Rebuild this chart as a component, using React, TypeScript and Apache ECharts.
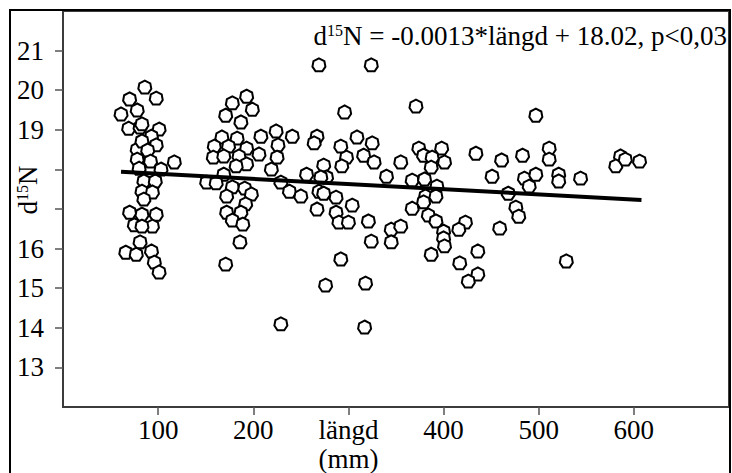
import React, { useEffect, useRef } from "react";
import * as echarts from "echarts";

// längd (mm)
const lengths: number[] = [
  86, 98, 70, 78, 61, 69, 81, 101, 93, 83, 98, 78, 83, 89, 78, 92, 117, 80, 103, 85, 97, 83, 94, 85, 70, 98, 83, 75, 94, 83, 81, 93, 66, 77, 96, 101,
  193, 178, 199, 171, 187, 224, 167, 183, 208, 159, 174, 193, 206, 226, 158, 169, 185, 225, 193, 182, 219, 169, 151, 161, 178, 191, 198, 172, 192, 172, 187, 178, 189, 186, 171, 229,
  269, 324, 296, 371, 241, 267, 264, 292, 309, 325, 316, 327, 298, 293, 274, 355, 256, 277, 271, 340, 238, 250, 269, 274, 287, 304, 267, 287, 290, 300, 321, 345, 355, 324, 345, 292, 276, 318, 229, 317,
  374, 398, 379, 388, 401, 387, 367, 380, 393, 381, 392, 379, 367, 384, 392, 400, 400, 401, 387,
  497, 434, 461, 483, 511, 511, 451, 485, 497, 521, 521, 544, 490, 468, 476, 479, 423, 416, 459, 436, 417, 436, 426, 529, 586, 581, 591, 606,
];
// d15N
const d15N: number[] = [
  20.08, 19.8, 19.78, 19.5, 19.4, 19.04, 19.07, 19.02, 18.84, 19.15, 18.62, 18.51, 18.72, 18.49, 18.26, 18.21, 18.19, 18.03, 18.01, 17.71, 17.71, 17.45, 17.43, 17.25, 16.92, 16.87, 16.87, 16.6, 16.57, 16.57, 16.17, 15.94, 15.91, 15.86, 15.66, 15.41,
  19.85, 19.68, 19.52, 19.37, 19.2, 18.97, 18.82, 18.79, 18.84, 18.59, 18.59, 18.54, 18.39, 18.62, 18.31, 18.34, 18.34, 18.31, 18.14, 18.09, 18.01, 17.88, 17.68, 17.66, 17.56, 17.53, 17.38, 17.33, 17.13, 16.92, 16.92, 16.72, 16.62, 16.17, 15.61, 17.68,
  20.64, 20.64, 19.45, 19.6, 18.84, 18.84, 18.67, 18.59, 18.82, 18.67, 18.36, 18.19, 18.31, 18.09, 18.11, 18.19, 17.88, 17.81, 17.81, 17.83, 17.45, 17.33, 17.45, 17.4, 17.3, 17.1, 17.0, 16.92, 16.67, 16.67, 16.7, 16.49, 16.57, 16.19, 16.17, 15.74, 15.08, 15.13, 14.1, 14.02,
  18.54, 18.54, 18.36, 18.31, 18.19, 18.06, 17.73, 17.76, 17.58, 17.33, 17.33, 17.18, 17.02, 16.85, 16.7, 16.44, 16.27, 16.07, 15.86,
  19.37, 18.41, 18.24, 18.36, 18.54, 18.26, 17.83, 17.78, 17.88, 17.88, 17.71, 17.78, 17.58, 17.4, 17.05, 16.82, 16.67, 16.49, 16.52, 15.94, 15.64, 15.36, 15.18, 15.69, 18.34, 18.09, 18.26, 18.21,
];

// regression line endpoints (längd, d15N)
const fitX: number[] = [61, 608];
const fitY: number[] = [17.94, 17.23];

const xTicks: number[] = [100, 200, 300, 400, 500, 600];
const yTicks: number[] = [13, 14, 15, 16, 17, 18, 19, 20, 21];
const yLabels: number[] = [13, 14, 15, 16, 19, 20, 21];

const FONT = '"Liberation Serif", "Times New Roman", serif';

export default function App() {
  const ref = useRef<HTMLDivElement>(null);
  useEffect(() => {
    if (!ref.current) return;
    const chart = echarts.init(ref.current, null, { renderer: "svg" });
    const points = lengths.map((x, i) => [x, d15N[i]]);
    const fit = fitX.map((x, i) => [x, fitY[i]]);
    chart.setOption({
      animation: false,
      backgroundColor: "#fff",
      grid: {
        left: 63,
        right: 3,
        top: 11,
        bottom: 65,
        show: true,
        borderColor: "#3c3c3c",
        borderWidth: 2,
        backgroundColor: "transparent",
      },
      xAxis: {
        type: "value",
        min: 0,
        max: 700,
        interval: 100,
        splitLine: { show: false },
        axisLine: { show: false },
        axisTick: {
          show: true,
          customValues: xTicks,
          length: 8,
          lineStyle: { color: "#555", width: 1.5 },
        },
        axisLabel: {
          customValues: xTicks,
          margin: 8,
          color: "#000",
          fontFamily: FONT,
          fontSize: 27,
          lineHeight: 29,
          formatter: (v: number) => (v === 300 ? "längd\n(mm)" : String(v)),
        },
      },
      yAxis: {
        type: "value",
        min: 12,
        max: 22,
        interval: 1,
        splitLine: { show: false },
        axisLine: { show: false },
        axisTick: {
          show: true,
          customValues: yTicks,
          length: 8,
          lineStyle: { color: "#555", width: 1.5 },
        },
        axisLabel: {
          customValues: yLabels,
          margin: 19,
          color: "#000",
          fontFamily: FONT,
          fontSize: 27,
        },
      },
      series: [
        {
          type: "scatter",
          data: points,
          symbol: "path://M5,0 L9.2,2.2 L10,6.4 L7.6,10 L2.4,10 L0,6.4 L0.8,2.2 Z",
          symbolSize: 13,
          itemStyle: { color: "#fff", borderColor: "#000", borderWidth: 2, opacity: 1 },
          z: 2,
        },
        {
          type: "line",
          data: fit,
          symbol: "none",
          lineStyle: { color: "#000", width: 4 },
          z: 3,
        },
      ],
      graphic: [
        {
          type: "rect",
          shape: { x: 10, y: 10, width: 720, height: 480 },
          style: { fill: "none", stroke: "#000", lineWidth: 2 },
          silent: true,
        },
        {
          type: "text",
          x: 727,
          y: 22,
          style: {
            text: "{a|d}{b|15}{a|N = -0.0013*längd + 18.02, p<0,03}",
            align: "right",
            verticalAlign: "top",
            rich: {
              a: { fontFamily: FONT, fontSize: 27, lineHeight: 28, fill: "#000" },
              b: { fontFamily: FONT, fontSize: 16, lineHeight: 16, verticalAlign: "top", fill: "#000" },
            },
          },
        },
        {
          type: "text",
          x: 28,
          y: 190,
          rotation: Math.PI / 2,
          style: {
            text: "{a|d}{b|15}{a|N}",
            align: "center",
            verticalAlign: "middle",
            rich: {
              a: { fontFamily: FONT, fontSize: 27, lineHeight: 28, fill: "#000" },
              b: { fontFamily: FONT, fontSize: 16, lineHeight: 16, verticalAlign: "top", fill: "#000" },
            },
          },
        },
      ],
    });
    return () => chart.dispose();
  }, []);
  return (
    <div
      ref={ref}
      style={{ position: "fixed", left: 0, top: 0, width: 732, height: 473 }}
    />
  );
}
